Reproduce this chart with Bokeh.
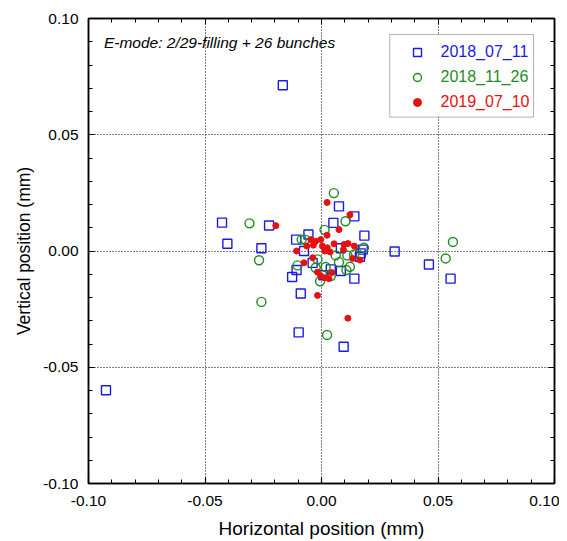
from bokeh.plotting import figure
from bokeh.models import (FixedTicker, PrintfTickFormatter, LinearAxis, Legend, LegendItem,
                          BoxAnnotation, Label, Range1d, CustomJSTickFormatter)
from bokeh.embed import file_html
from bokeh.resources import INLINE

FONT = "Liberation Sans"

# ---- data ----
series_names = ["2018_07_11", "2018_11_26", "2019_07_10"]

x_0711 = [-0.0166, -0.0427, -0.0404, -0.0925, -0.0225, 0.0075, 0.0141, 0.0051, 0.0184, -0.0056,
          -0.0109, -0.0258, -0.0075, 0.0083, 0.0168, 0.0177, 0.0165, -0.0038, -0.0107, -0.0126,
          0.0040, 0.0083, 0.0008, 0.0141, -0.0089, 0.0314, -0.0098, 0.0095, 0.0461, 0.0554]
y_0711 = [0.0713, 0.0122, 0.0031, -0.0599, 0.0110, 0.0192, 0.0149, 0.0121, 0.0066, 0.0071,
          0.0049, 0.0012, 0.0000, 0.0012, -0.0010, 0.0006, -0.0025, -0.0051, -0.0082, -0.0112,
          -0.0079, -0.0086, -0.0104, -0.0119, -0.0183, -0.0002, -0.0350, -0.0412, -0.0058, -0.0119]

x_1126 = [0.0053, 0.0103, 0.0013, -0.0309, -0.0085, -0.0070, 0.0182, -0.0268, -0.0017, 0.0061,
          0.0111, 0.0140, -0.0025, -0.0103, 0.0075, 0.0122, 0.0107, 0.0018, 0.0040, -0.0006,
          -0.0258, 0.0024, 0.0564, 0.0533]
y_1126 = [0.0249, 0.0128, 0.0091, 0.0119, 0.0049, 0.0049, 0.0014, -0.0040, -0.0036, -0.0019,
          -0.0019, -0.0015, -0.0072, -0.0062, -0.0048, -0.0068, -0.0082, -0.0069, -0.0108, -0.0130,
          -0.0219, -0.0361, 0.0039, -0.0032]

x_0710 = [-0.0196, 0.0024, 0.0122, 0.0075, 0.0024, -0.0046, -0.0025, -0.0003, -0.0063, -0.0035,
          0.0004, 0.0025, 0.0054, 0.0097, 0.0114, 0.0141, -0.0107, 0.0014, 0.0037, 0.0094,
          0.0133, 0.0165, -0.0038, -0.0075, -0.0017, -0.0003, 0.0014, 0.0032, 0.0044, -0.0017,
          0.0113]
y_0710 = [0.0109, 0.0209, 0.0156, 0.0092, 0.0068, 0.0049, 0.0042, 0.0049, 0.0021, 0.0025,
          0.0021, 0.0014, 0.0031, 0.0028, 0.0032, 0.0021, 0.0000, 0.0000, -0.0004, 0.0006,
          -0.0032, -0.0039, -0.0029, -0.0051, -0.0091, -0.0108, -0.0115, -0.0119, -0.0093, -0.0191,
          -0.0289]

major_ticks = [-0.10, -0.05, 0.0, 0.05, 0.10]
minor_ticks = [round(-0.10 + 0.01 * i, 2) for i in range(21)]
grid_ticks = [-0.05, 0.0, 0.05]

BLUE = "#1a1ae6"
GREEN = "#1e8c1e"
RED = "#e61010"

p = figure(width=559, height=541, output_backend="svg", toolbar_location=None,
           x_range=Range1d(-0.10, 0.10), y_range=Range1d(-0.10, 0.10),
           min_border_left=88, min_border_right=5, min_border_top=18, min_border_bottom=56)
p.outline_line_color = "black"
p.outline_line_width = 1.5
p.background_fill_color = "white"
p.border_fill_color = "white"

for ax in (p.xaxis[0], p.yaxis[0]):
    ax.ticker = FixedTicker(ticks=major_ticks, minor_ticks=minor_ticks)
    ax.formatter = PrintfTickFormatter(format="%.2f")
    ax.major_tick_in = 6
    ax.major_tick_out = 0
    ax.minor_tick_in = 4
    ax.minor_tick_out = 0
    ax.axis_line_width = 1.5
    ax.major_tick_line_width = 1.2
    ax.major_label_text_font = FONT
    ax.major_label_text_font_size = "15.5px"
    ax.major_label_text_color = "black"
    ax.axis_label_text_font = FONT
    ax.axis_label_text_font_style = "normal"
    ax.axis_label_text_color = "black"

p.xaxis.axis_label = "Horizontal position (mm)"
p.yaxis.axis_label = "Vertical position (mm)"
p.xaxis.axis_label_text_font_size = "19px"
p.yaxis.axis_label_text_font_size = "17.5px"
p.xaxis.major_label_standoff = 12
p.yaxis.major_label_standoff = 10
p.xaxis.axis_label_standoff = 9
p.yaxis.axis_label_standoff = 6

for loc in ("right", "above"):
    ax = LinearAxis(ticker=FixedTicker(ticks=major_ticks, minor_ticks=minor_ticks),
                    formatter=CustomJSTickFormatter(code="return ''"))
    ax.major_tick_in = 6
    ax.major_tick_out = 0
    ax.minor_tick_in = 4
    ax.minor_tick_out = 0
    ax.axis_line_width = 1.5
    ax.major_label_standoff = 0
    p.add_layout(ax, loc)

p.xgrid.ticker = FixedTicker(ticks=grid_ticks)
p.ygrid.ticker = FixedTicker(ticks=grid_ticks)
for g in (p.xgrid[0], p.ygrid[0]):
    g.grid_line_color = "black"
    g.grid_line_dash = "1 2"
    g.grid_line_width = 1
    g.grid_line_alpha = 1

r1 = p.scatter(x_0711, y_0711, marker="square", size=9, line_color=BLUE, line_width=1.4,
               fill_alpha=0)
r2 = p.scatter(x_1126, y_1126, marker="circle", size=9, line_color=GREEN, line_width=1.4,
               fill_alpha=0)
r3 = p.scatter(x_0710, y_0710, marker="circle", size=6, line_color=RED, fill_color=RED)

p.add_layout(Label(x=-0.0934, y=0.0897, text="E-mode: 2/29-filling + 26 bunches",
                   text_font=FONT, text_font_size="15.5px", text_font_style="italic",
                   text_baseline="middle", text_color="black"))

# legend box
p.add_layout(BoxAnnotation(left=0.0293, right=0.0910, top=0.0931, bottom=0.0576,
                           fill_color="white", fill_alpha=1, line_color="black",
                           line_width=1, level="annotation"))

bottoms = [421.5, 396.5, 371.5]
for r, name, col, b in zip((r1, r2, r3), series_names, (BLUE, GREEN, RED), bottoms):
    lg = Legend(items=[LegendItem(label=name, renderers=[r])], location=(318.5, b),
                border_line_color=None, background_fill_alpha=0, padding=0, margin=0,
                glyph_width=20, glyph_height=20, label_height=20, label_standoff=14,
                label_text_font=FONT, label_text_font_size="16px", label_text_color=col)
    p.add_layout(lg)

open("out.html", "w").write(file_html(p, INLINE))
